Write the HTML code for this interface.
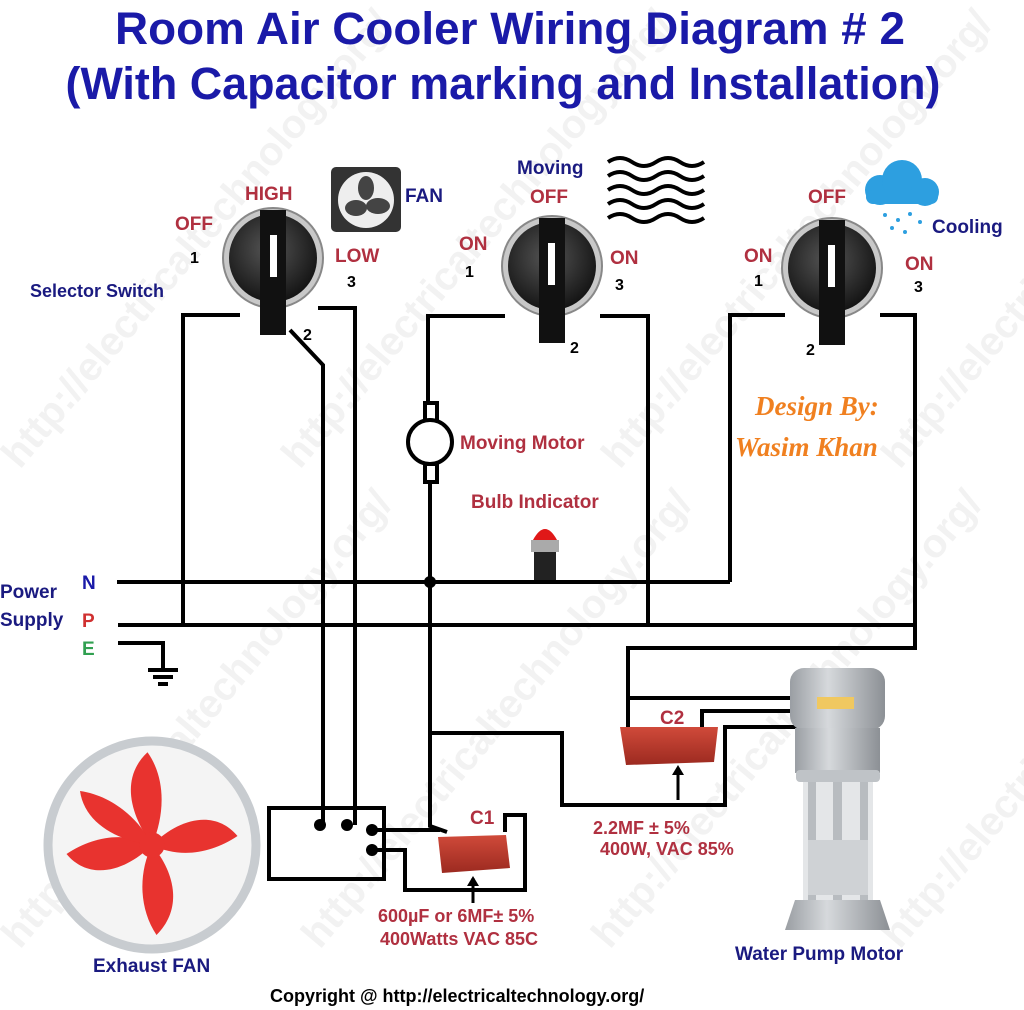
<!DOCTYPE html>
<html><head><meta charset="utf-8"><style>
html,body{margin:0;padding:0;background:#fff}
svg{display:block}
text{font-family:"Liberation Sans",sans-serif;font-weight:bold}
</style></head><body>
<svg width="1024" height="1010" viewBox="0 0 1024 1010" xmlns="http://www.w3.org/2000/svg">
<defs>
<radialGradient id="kn" cx="45%" cy="40%" r="60%"><stop offset="0" stop-color="#555"/><stop offset="1" stop-color="#151515"/></radialGradient>
<linearGradient id="pg" x1="0" x2="1"><stop offset="0" stop-color="#9a9ea3"/><stop offset="0.4" stop-color="#d6d9dc"/><stop offset="1" stop-color="#8c9095"/></linearGradient>
<linearGradient id="cap" x1="0" y1="0" x2="0" y2="1"><stop offset="0" stop-color="#d04a3a"/><stop offset="1" stop-color="#9c2a20"/></linearGradient>
</defs>
<g fill="#e4e4e4" font-size="40" opacity="0.5" style="font-weight:normal">
<text transform="translate(20,470) rotate(-50)">http://electricaltechnology.org/</text>
<text transform="translate(300,470) rotate(-50)">http://electricaltechnology.org/</text>
<text transform="translate(620,470) rotate(-50)">http://electricaltechnology.org/</text>
<text transform="translate(900,470) rotate(-50)">http://electricaltechnology.org/</text>
<text transform="translate(20,950) rotate(-50)">http://electricaltechnology.org/</text>
<text transform="translate(320,950) rotate(-50)">http://electricaltechnology.org/</text>
<text transform="translate(610,950) rotate(-50)">http://electricaltechnology.org/</text>
<text transform="translate(900,950) rotate(-50)">http://electricaltechnology.org/</text>
</g>
<text x="510" y="44" text-anchor="middle" font-size="45" fill="#1a1aa8" textLength="790" lengthAdjust="spacingAndGlyphs">Room Air Cooler Wiring Diagram # 2</text>
<text x="503" y="99" text-anchor="middle" font-size="45" fill="#1a1aa8" textLength="875" lengthAdjust="spacingAndGlyphs">(With Capacitor marking and Installation)</text>

<g fill="none" stroke="#000" stroke-width="4">
<polyline points="240,315 183,315 183,625"/>
<polyline points="318,308 355,308 355,825"/>
<polyline points="290,330 323,365 323,825"/>
<polyline points="505,316 428,316 428,404"/>
<polyline points="430,482 430,826 447,832"/>
<polyline points="600,316 648,316 648,625"/>
<polyline points="785,315 730,315 730,582"/>
<polyline points="880,315 915,315 915,648 628,648 628,727"/>
<polyline points="628,698 800,698"/>
<polyline points="702,727 702,711 800,711"/>
<polyline points="430,733 562,733 562,805 725,805 725,727 800,727"/>
<line x1="117" y1="582" x2="730" y2="582"/>
<line x1="118" y1="625" x2="915" y2="625"/>
<polyline points="118,643 163,643 163,668"/>
<line x1="148" y1="670" x2="178" y2="670"/><line x1="153" y1="677" x2="173" y2="677"/><line x1="158" y1="684" x2="168" y2="684"/>
<rect x="269" y="808" width="115" height="71"/>
<polyline points="372,830 440,830"/>
<polyline points="372,850 405,850 405,890 525,890 525,815 505,815 505,832"/>
<rect x="425" y="403" width="12" height="18" fill="#fff"/>
<rect x="425" y="464" width="12" height="18" fill="#fff"/>
<circle cx="430" cy="442" r="22" fill="#fff"/>
</g>
<circle cx="430" cy="582" r="6"/>
<circle cx="320" cy="825" r="6"/><circle cx="347" cy="825" r="6"/><circle cx="372" cy="830" r="6"/><circle cx="372" cy="850" r="6"/>

<g>
<circle cx="273" cy="258" r="50" fill="#c8c8c8" stroke="#888" stroke-width="2"/><circle cx="273" cy="258" r="44" fill="url(#kn)"/>
<rect x="260" y="210" width="26" height="125" fill="#111"/><rect x="270" y="235" width="7" height="42" fill="#fff"/>
<circle cx="552" cy="266" r="50" fill="#c8c8c8" stroke="#888" stroke-width="2"/><circle cx="552" cy="266" r="44" fill="url(#kn)"/>
<rect x="539" y="218" width="26" height="125" fill="#111"/><rect x="548" y="243" width="7" height="42" fill="#fff"/>
<circle cx="832" cy="268" r="50" fill="#c8c8c8" stroke="#888" stroke-width="2"/><circle cx="832" cy="268" r="44" fill="url(#kn)"/>
<rect x="819" y="220" width="26" height="125" fill="#111"/><rect x="828" y="245" width="7" height="42" fill="#fff"/>
</g>
<rect x="331" y="167" width="70" height="65" rx="5" fill="#333"/><circle cx="366" cy="200" r="28" fill="#eee"/>
<g fill="#444"><ellipse cx="366" cy="188" rx="8" ry="12"/><ellipse cx="378" cy="206" rx="12" ry="8"/><ellipse cx="356" cy="208" rx="11" ry="8"/></g>
<g fill="none" stroke="#000" stroke-width="4">
<path d="M608,162 q12,-8 24,0 t24,0 t24,0 t24,0"/><path d="M608,176 q12,-8 24,0 t24,0 t24,0 t24,0"/><path d="M608,190 q12,-8 24,0 t24,0 t24,0 t24,0"/><path d="M608,204 q12,-8 24,0 t24,0 t24,0 t24,0"/><path d="M608,218 q12,-8 24,0 t24,0 t24,0 t24,0"/>
</g>
<g fill="#2d9fe0"><circle cx="880" cy="190" r="15"/><circle cx="902" cy="180" r="20"/><circle cx="925" cy="192" r="14"/><rect x="866" y="190" width="72" height="14" rx="7"/></g>
<g fill="#2d9fe0"><circle cx="885" cy="215" r="2"/><circle cx="898" cy="220" r="2"/><circle cx="910" cy="214" r="2"/><circle cx="920" cy="222" r="2"/><circle cx="892" cy="228" r="2"/><circle cx="905" cy="232" r="2"/></g>

<g font-size="19">
<text x="245" y="200" fill="#b03040">HIGH</text>
<text x="175" y="230" fill="#b03040">OFF</text>
<text x="335" y="262" fill="#b03040">LOW</text>
<text x="405" y="202" fill="#1a1a80">FAN</text>
<text x="190" y="263" fill="#000" font-size="16">1</text>
<text x="347" y="287" fill="#000" font-size="16">3</text>
<text x="303" y="340" fill="#000" font-size="16">2</text>
<text x="30" y="297" fill="#1a1a80" font-size="18">Selector Switch</text>
<text x="517" y="174" fill="#1a1a80">Moving</text>
<text x="530" y="203" fill="#b03040">OFF</text>
<text x="459" y="250" fill="#b03040">ON</text>
<text x="610" y="264" fill="#b03040">ON</text>
<text x="465" y="277" fill="#000" font-size="16">1</text>
<text x="615" y="290" fill="#000" font-size="16">3</text>
<text x="570" y="353" fill="#000" font-size="16">2</text>
<text x="808" y="203" fill="#b03040">OFF</text>
<text x="932" y="233" fill="#1a1a80">Cooling</text>
<text x="744" y="262" fill="#b03040">ON</text>
<text x="905" y="270" fill="#b03040">ON</text>
<text x="754" y="286" fill="#000" font-size="16">1</text>
<text x="914" y="292" fill="#000" font-size="16">3</text>
<text x="806" y="355" fill="#000" font-size="16">2</text>
<text x="460" y="449" fill="#b03040">Moving Motor</text>
<text x="471" y="508" fill="#b03040">Bulb Indicator</text>
<text x="0" y="598" fill="#1a1a80">Power</text>
<text x="0" y="626" fill="#1a1a80">Supply</text>
<text x="82" y="589" fill="#1a1aa8">N</text>
<text x="82" y="627" fill="#d03030">P</text>
<text x="82" y="655" fill="#30a050">E</text>
<text x="660" y="724" fill="#b03040">C2</text>
<text x="470" y="824" fill="#b03040">C1</text>
<text x="593" y="834" fill="#b03040" font-size="18">2.2MF ± 5%</text>
<text x="600" y="855" fill="#b03040" font-size="18">400W, VAC 85%</text>
<text x="378" y="922" fill="#b03040" font-size="18">600µF or 6MF± 5%</text>
<text x="380" y="945" fill="#b03040" font-size="18">400Watts VAC 85C</text>
<text x="735" y="960" fill="#1a1a80">Water Pump Motor</text>
<text x="270" y="1002" fill="#000" font-size="18">Copyright @  http://electricaltechnology.org/</text>
</g>
<text x="755" y="415" font-style="italic" font-size="27" fill="#f08020" style="font-family:'Liberation Serif',serif">Design By:</text>
<text x="735" y="456" font-size="27" fill="#f08020" font-style="italic" style="font-family:'Liberation Serif',serif">Wasim Khan</text>

<path d="M533,540 q12,-22 24,0 z" fill="#e01818"/><rect x="531" y="540" width="28" height="12" fill="#aaa"/><rect x="534" y="552" width="22" height="28" fill="#222"/>
<path d="M620,727 L718,727 L714,762 L626,765 Z" fill="url(#cap)"/>
<line x1="678" y1="768" x2="678" y2="800" stroke="#000" stroke-width="3"/><path d="M672,775 L678,765 L684,775 Z"/>
<path d="M438,837 L506,835 L510,868 L442,873 Z" fill="url(#cap)"/>
<line x1="473" y1="878" x2="473" y2="903" stroke="#000" stroke-width="3"/><path d="M467,886 L473,876 L479,886 Z"/>
<circle cx="152" cy="845" r="104" fill="#f4f4f4" stroke="#c8ccd0" stroke-width="9"/>
<g fill="#e8332f" transform="translate(152,845) scale(0.9) translate(-145,-855)">
<path d="M145,855 C120,820 110,780 140,752 C160,780 160,820 145,855Z"/>
<path d="M145,855 C175,825 215,815 240,845 C210,865 175,870 145,855Z"/>
<path d="M145,855 C170,885 180,925 150,955 C130,925 130,885 145,855Z"/>
<path d="M145,855 C115,885 75,895 50,865 C80,845 115,840 145,855Z"/>
<path d="M145,855 C105,850 70,830 65,795 C100,800 130,825 145,855Z"/>
<circle cx="145" cy="855" r="14"/>
</g>
<text x="93" y="972" fill="#1a1a80" font-size="19">Exhaust FAN</text>
<rect x="790" y="668" width="95" height="62" rx="14" fill="url(#pg)"/>
<rect x="817" y="697" width="37" height="12" fill="#f0c860"/>
<rect x="795" y="728" width="85" height="45" fill="url(#pg)"/>
<rect x="796" y="770" width="84" height="12" rx="4" fill="#bfc3c7"/>
<rect x="803" y="782" width="70" height="118" fill="#e4e6e8"/>
<rect x="808" y="782" width="8" height="118" fill="#b8bcc0"/><rect x="833" y="782" width="9" height="118" fill="#b8bcc0"/><rect x="860" y="782" width="8" height="118" fill="#b8bcc0"/>
<rect x="808" y="840" width="60" height="55" fill="#cfd2d5"/>
<path d="M795,900 L880,900 L890,930 L785,930 Z" fill="url(#pg)"/>
</svg>
</body></html>
